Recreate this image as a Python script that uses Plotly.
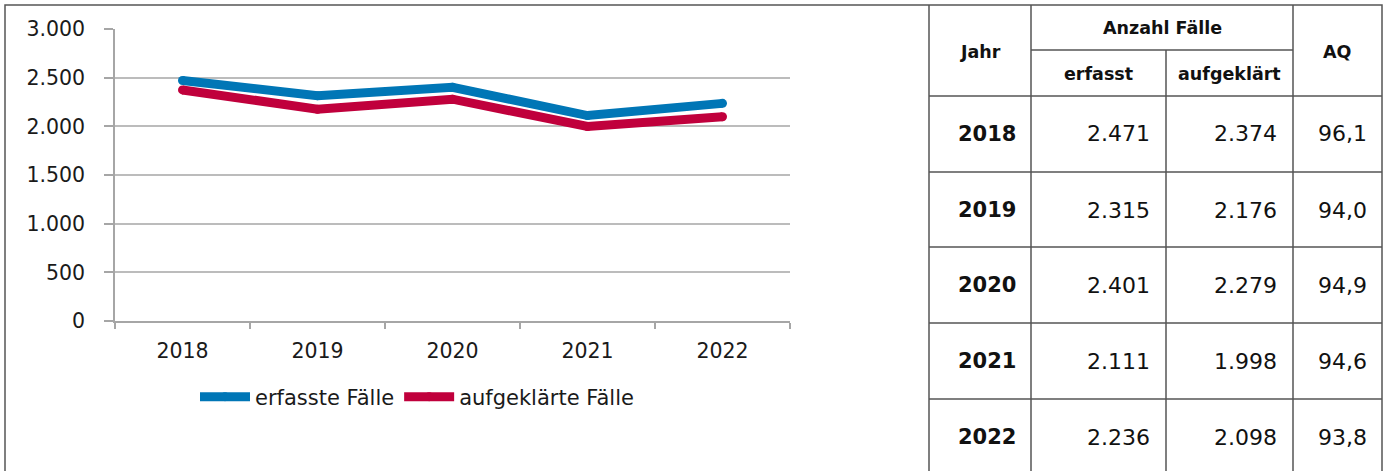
import plotly.graph_objects as go

years = ["2018", "2019", "2020", "2021", "2022"]
erfasst = [2471, 2315, 2401, 2111, 2236]
aufgeklaert = [2374, 2176, 2279, 1998, 2098]
aq = [96.1, 94.0, 94.9, 94.6, 93.8]
series_names = ["erfasste Fälle", "aufgeklärte Fälle"]
colors = ["#0076B6", "#C0003C"]
header_top = "Anzahl Fälle"
header_cols = ["Jahr", "erfasst", "aufgeklärt", "AQ"]

W, H = 1389, 471
FONT = "DejaVu Sans"
TXT = "#1a1a1a"

def px(x):
    return x / W

def py(y):
    return 1 - y / H

def de_int(v):
    return f"{v:,}".replace(",", ".")

def de_dec(v):
    return f"{v:.1f}".replace(".", ",")

fig = go.Figure()
for name, vals, col in zip(series_names, [erfasst, aufgeklaert], colors):
    fig.add_trace(go.Scatter(x=years, y=vals, mode="lines+markers", name=name,
                             line=dict(color=col, width=9),
                             marker=dict(color=col, size=9, line=dict(width=0))))

fig.update_layout(
    width=W, height=H,
    margin=dict(l=0, r=0, t=0, b=0, pad=0, autoexpand=False),
    paper_bgcolor="white", plot_bgcolor="white",
    separators=",.",
    font=dict(family=FONT, size=20, color=TXT),
    showlegend=True,
    legend=dict(orientation="h", x=px(417), xanchor="center", y=py(397), yanchor="middle",
                font=dict(size=21, color=TXT), itemwidth=50, traceorder="normal",
                bgcolor="rgba(0,0,0,0)"),
    xaxis=dict(domain=[px(115), px(790)], type="category", range=[-0.5, 4.5],
               showgrid=False, showline=True, linecolor="#a6a6a6", linewidth=1.5,
               ticks="outside", tickson="boundaries", ticklen=6, tickcolor="#a6a6a6",
               tickwidth=1.5, ticklabelstandoff=11, tickfont=dict(size=20.5, color=TXT),
               automargin=False, fixedrange=True),
    yaxis=dict(domain=[py(321), py(29)], range=[0, 3000], dtick=500, tickformat=",d",
               showgrid=True, gridcolor="#bcbcbc", gridwidth=1.5,
               showline=True, linecolor="#a6a6a6", linewidth=1.5,
               ticks="outside", ticklen=9, tickcolor="#a6a6a6", tickwidth=1.5,
               ticklabelstandoff=15, tickfont=dict(size=20.5, color=TXT),
               zeroline=False, automargin=False, fixedrange=True),
)

shapes = []
border = dict(color="#555555", width=1.5)
shapes.append(dict(type="rect", xref="paper", yref="paper", x0=px(5), x1=px(1382),
                   y0=py(480), y1=py(5), line=border))
for x in [929, 1031, 1293]:
    shapes.append(dict(type="line", xref="paper", yref="paper", x0=px(x), x1=px(x),
                       y0=py(480), y1=py(5), line=border))
shapes.append(dict(type="line", xref="paper", yref="paper", x0=px(1166), x1=px(1166),
                   y0=py(480), y1=py(50), line=border))
shapes.append(dict(type="line", xref="paper", yref="paper", x0=px(1031), x1=px(1293),
                   y0=py(50), y1=py(50), line=border))
for y in [96, 172, 247, 323, 399]:
    shapes.append(dict(type="line", xref="paper", yref="paper", x0=px(929), x1=px(1382),
                       y0=py(y), y1=py(y), line=border))
fig.update_layout(shapes=shapes)

ann = []
def txt(x, y, s, size, bold=False, xanchor="center"):
    ann.append(dict(xref="paper", yref="paper", x=px(x), y=py(y), text=f"<b>{s}</b>" if bold else s,
                    showarrow=False, xanchor=xanchor, yanchor="middle",
                    font=dict(family=FONT, size=size, color="#111111")))

txt(980, 52, header_cols[0], 17.5, True)
txt(1162, 28, header_top, 17.5, True)
txt(1098, 74, header_cols[1], 17.5, True)
txt(1229, 74, header_cols[2], 17.5, True)
txt(1337, 52, header_cols[3], 17.5, True)

row_centers = [134, 210, 285, 361, 437]
for i, yc in enumerate(row_centers):
    txt(1018, yc, years[i], 21, True, "right")
    txt(1152, yc, de_int(erfasst[i]), 22, False, "right")
    txt(1279, yc, de_int(aufgeklaert[i]), 22, False, "right")
    txt(1369, yc, de_dec(aq[i]), 22, False, "right")
fig.update_layout(annotations=ann)

fig.write_html("out.html", config={"displayModeBar": False},
               post_script="document.body.style.margin='0';document.body.style.overflow='hidden';")
